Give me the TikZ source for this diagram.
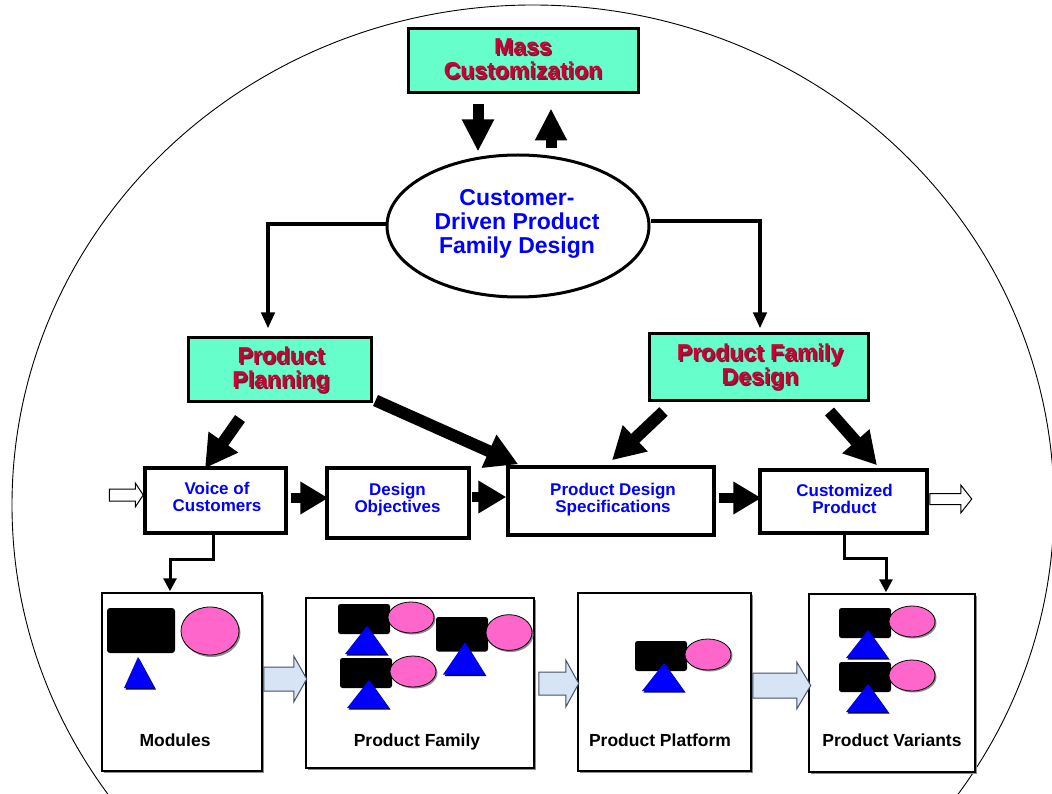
\documentclass[tikz,border=0pt]{standalone}
\usepackage{fontspec}
\setmainfont{Liberation Sans}
\usetikzlibrary{arrows.meta,calc,shapes.geometric,shadows}

\definecolor{mint}{RGB}{102,255,204}
\definecolor{crimson}{RGB}{204,0,51}
\definecolor{crimsonshade}{RGB}{120,24,52}
\definecolor{pinkmod}{RGB}{255,102,204}
\definecolor{bluemod}{RGB}{0,0,255}
\definecolor{navyshade}{RGB}{0,0,90}
\definecolor{paleblue}{RGB}{214,228,246}
\definecolor{paleedge}{RGB}{70,80,100}

\tikzset{
  pics/moduleset/.style={code={
    \fill[rounded corners=2.5pt] (0,0) rectangle (52,30);
    \fill[navyshade] (30.5,23.5) -- (50.5,51.5) -- (8.5,51.5) -- cycle;
    \fill[bluemod] (29,22) -- (49,50) -- (7,50) -- cycle;
    \fill[black!45] (74.5,15) ellipse [x radius=23, y radius=15.5];
    \filldraw[fill=pinkmod, draw=black, line width=0.8pt] (73,13.5) ellipse [x radius=23, y radius=15.5];
  }}
}

\begin{document}
\begin{tikzpicture}[x=1pt,y=-1pt,
  greenbox/.style={draw=black, line width=3pt, fill=mint, inner sep=0pt},
  stagebox/.style={draw=black, line width=3.5pt, fill=white, inner sep=0pt},
  viewbox/.style={draw=black, line width=1.5pt, fill=white, inner sep=0pt,
    drop shadow={shadow xshift=1.5pt, shadow yshift=-1.5pt, fill=black!45, opacity=1}},
  redtitle/.style={text=crimson, font=\bfseries\fontsize{23}{24}\selectfont, align=center, inner sep=0pt},
  redshade/.style={redtitle, text=crimsonshade},
  bluetitle/.style={text=bluemod, font=\bfseries\fontsize{23}{24}\selectfont, align=center, inner sep=0pt},
  stagetext/.style={text=bluemod, font=\bfseries\fontsize{17}{17}\selectfont, align=center, inner sep=0pt},
  viewtext/.style={text=black, font=\bfseries\fontsize{17.5}{18}\selectfont, inner sep=0pt, anchor=base},
  elbowthick/.style={line width=4pt, -{Triangle[length=16pt,width=13pt]}},
  elbowthin/.style={line width=3pt, -{Triangle[length=13pt,width=13pt]}},
  fatarrow/.style={line width=10pt, -{Triangle[length=28pt,width=31pt]}},
  vertarrow/.style={line width=11pt, -{Triangle[length=32pt,width=30pt]}},
  diagarrow/.style={line width=12pt, -{Triangle[length=32pt,width=34pt]}},
  hollow/.style={draw=black, line width=1pt, fill=white},
  blockarrow/.style={draw=paleedge, line width=1pt, fill=paleblue},
]
\useasboundingbox (0,0) rectangle (1052,794);

% outer boundary
\begin{scope}
  \clip (0,0) rectangle (1052,794);
  \draw[line width=0.9pt] (533,505) ellipse [x radius=521, y radius=500];
\end{scope}

% top level
\node[greenbox, minimum width=230, minimum height=64] (mc) at (523,61) {};
\node[redshade] (mc-sh) at (524.5,60.5) {Mass\\Customization};
\node[redtitle] (mc-tx) at (523,59) {Mass\\Customization};

\node[ellipse, draw=black, line width=3pt, fill=white, minimum width=262, minimum height=142, inner sep=0pt] (cdpfd) at (518,226) {};
\node[bluetitle] (cdpfd-tx) at (517,223.5) {Customer-\\Driven Product\\Family Design};

% second level
\node[greenbox, minimum width=183, minimum height=64] (pp) at (279.5,369) {};
\node[redshade] (pp-sh) at (282.5,371.5) {Product\\Planning};
\node[redtitle] (pp-tx) at (281,370) {Product\\Planning};

\node[greenbox, minimum width=219, minimum height=67] (pfd) at (758.5,366.5) {};
\node[redshade] (pfd-sh) at (761.5,368.5) {Product Family\\Design};
\node[redtitle] (pfd-tx) at (760,367) {Product Family\\Design};

% process row
\node[stagebox, minimum width=141, minimum height=65] (voc) at (215.5,500.5) {};
\node[stagetext] (voc-tx) at (217,497) {Voice of\\Customers};
\node[stagebox, minimum width=142, minimum height=70] (do) at (398,503) {};
\node[stagetext] (do-tx) at (397.5,500) {Design\\Objectives};
\node[stagebox, minimum width=206, minimum height=68] (pds) at (611,501) {};
\node[stagetext] (pds-tx) at (613,500) {Product Design\\Specifications};
\node[stagebox, minimum width=167, minimum height=63] (cp) at (843.5,501.5) {};
\node[stagetext] (cp-tx) at (844.5,499) {Customized\\Product};

% bottom row
\node[viewbox, minimum width=160, minimum height=178] (mod) at (182,682) {};
\node[viewbox, minimum width=228, minimum height=170] (pf) at (420,683) {};
\node[viewbox, minimum width=173, minimum height=178] (pplat) at (664.5,682) {};
\node[viewbox, minimum width=166, minimum height=178] (pv) at (892,683) {};

\node[viewtext] (mod-tx) at (175,746) {Modules};
\node[viewtext] (pf-tx) at (417,746) {Product Family};
\node[viewtext] (pplat-tx) at (660,746) {Product Platform};
\node[viewtext] (pv-tx) at (892,746) {Product Variants};

% module pieces
\fill[rounded corners=3pt] (107,608) rectangle (175,653);
\fill[navyshade] (139.5,659) -- (156,689.5) -- (125.5,689.5) -- cycle;
\fill[bluemod] (138,657) -- (154,688) -- (124,688) -- cycle;
\fill[black!45] (211.5,633) ellipse [x radius=29, y radius=24];
\filldraw[fill=pinkmod, draw=black, line width=0.8pt] (210,631) ellipse [x radius=29, y radius=24];

\pic at (338,604) {moduleset};
\pic at (340,658) {moduleset};
\pic[yscale=1.15] at (436,617) {moduleset};
\pic at (635,641) {moduleset};
\pic at (839,608) {moduleset};
\pic at (839,662) {moduleset};

% links between levels
\draw[vertarrow] ($(mc.south)+(-45,10)$) -- ($(cdpfd.north)+(-40,-2)$);
\draw[vertarrow] ($(cdpfd.north)+(33,-5)$) -- ($(mc.south)+(28,14)$);

\draw[elbowthick] ($(cdpfd.west)+(0,-2)$) -| ($(pp.north)+(-11.5,-7)$);
\draw[elbowthick] ($(cdpfd.east)+(0,-5)$) -| ($(pfd.north)+(1.5,-3)$);

\draw[diagarrow] ($(pp.south)+(-39.5,16)$) -- ($(voc.north)+(-10.5,2)$);
\draw[diagarrow] ($(pp.south east)+(3,-2)$) -- ($(pds.north west)+(12,-1)$);
\draw[diagarrow] ($(pfd.south west)+(16,10)$) -- ($(pds.north)+(1,-5)$);
\draw[diagarrow] ($(pfd.south east)+(-40,10)$) -- ($(cp.north)+(33.5,-3)$);

\draw[fatarrow] ($(voc.east)+(3,-2.5)$) -- ($(do.west)+(3,-5)$);
\draw[fatarrow] ($(do.east)+(1,-6)$) -- ($(pds.west)+(0,-4)$);
\draw[fatarrow] ($(pds.east)+(3,-3)$) -- ($(cp.west)+(3,-3.5)$);

\draw[elbowthin] ($(voc.south)+(-2.5,0)$) -- ++(0,25) -| ($(mod.north)+(-12,-1)$);
\draw[elbowthin] ($(cp.south)+(0.5,0)$) -- ++(0,24) -| ($(pv.north)+(-6,-1)$);

% open flow arrows
\coordinate (in-tail) at ($(voc.west)+(-34,-5.5)$);
\draw[hollow] (in-tail) ++(0,-6) -- ++(26,0) -- ++(0,-6) -- ++(8,12) -- ++(-8,12) -- ++(0,-6) -- ++(-26,0) -- cycle;
\coordinate (out-tail) at ($(cp.east)+(1,-2.5)$);
\draw[hollow] (out-tail) ++(0,-5.5) -- ++(31,0) -- ++(0,-8.5) -- ++(11,14) -- ++(-11,14) -- ++(0,-8.5) -- ++(-31,0) -- cycle;

% block arrows between views
\coordinate (b1) at ($(mod.east)+(1,-3)$);
\draw[blockarrow] (b1) ++(0,-12) -- ++(30,0) -- ++(0,-11) -- ++(13,23) -- ++(-13,23) -- ++(0,-11) -- ++(-30,0) -- cycle;
\coordinate (b2) at ($(pf.east)+(4,0.5)$);
\draw[blockarrow] (b2) ++(0,-11.5) -- ++(27,0) -- ++(0,-12) -- ++(13,23.5) -- ++(-13,23.5) -- ++(0,-12) -- ++(-27,0) -- cycle;
\coordinate (b3) at ($(pplat.east)+(1,3.5)$);
\draw[blockarrow] (b3) ++(0,-12.5) -- ++(44,0) -- ++(0,-11) -- ++(14,23.5) -- ++(-14,23.5) -- ++(0,-11) -- ++(-44,0) -- cycle;

\end{tikzpicture}
\end{document}
